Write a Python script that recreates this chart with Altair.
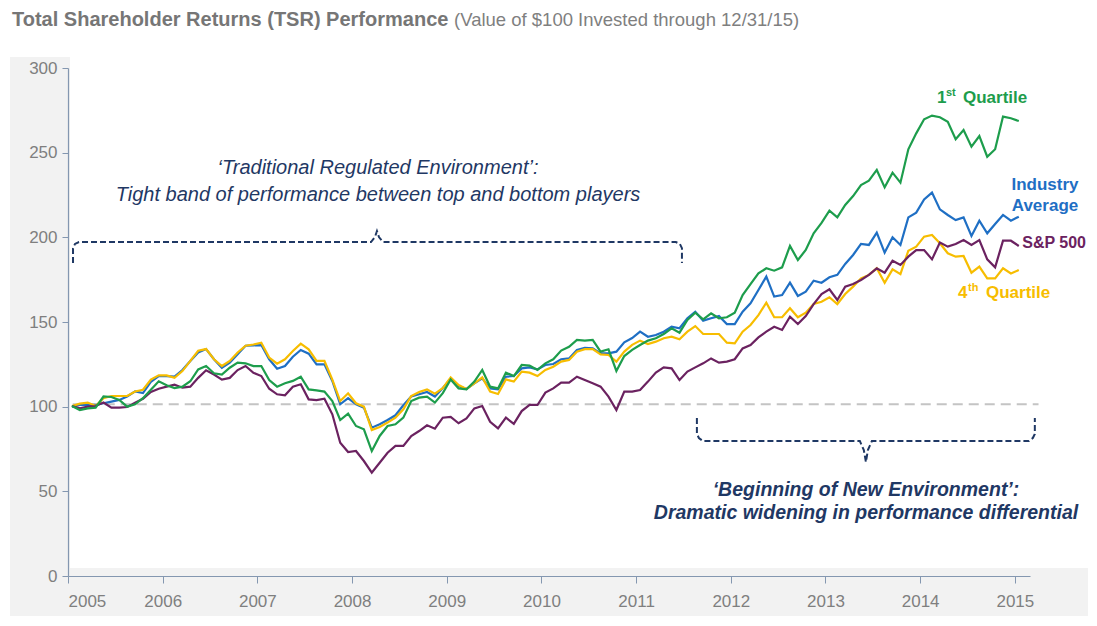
import altair as alt
import pandas as pd

# ---------------- data (monthly, Jan 2005 .. Jan 2015) ----------------
q1 = [100.4, 98, 99, 99.4, 106, 105.7, 104, 100, 101.4, 105, 110, 115,
      112.6, 111, 111.8, 115, 122, 124, 119.7, 119, 123, 126, 125.6, 124,
      124, 115.7, 111.8, 113.8, 115.2, 117.7, 110.2, 109.6, 108.9, 103.3, 92.1, 95.9,
      88.6, 86.6, 73.8, 82.7, 88.6, 89.6, 93.5, 103.3, 105.3, 105.9, 102.4, 108,
      116.1, 110.8, 110.2, 114.8, 121.7, 111.8, 110.8, 120.1, 118.1, 124.6, 124.2, 121.7,
      125.6, 128, 133.1, 135.4, 139.4, 139, 139.4, 132.5, 133.9, 121.1, 129.9, 133.5,
      136.4, 139, 140.4, 142.9, 146.3, 143.7, 151.2, 155.5, 151.6, 155.1, 152.2, 152.8,
      155.5, 165.9, 172.4, 178.7, 181.7, 180.3, 182.3, 194.9, 186.6, 192.5, 202.4, 208.5,
      215.7, 211.8, 219.1, 224.4, 230.9, 233.5, 239.8, 229.5, 238.2, 232.3, 252, 261.4,
      269.7, 271.9, 270.9, 268.3, 257.9, 263.4, 253.5, 259.8, 247.6, 252, 271.3, 270.3,
      268.7]
industry = [100, 101, 101, 101, 102, 103, 104, 106, 109, 108, 114.6, 118,
            118, 117.7, 121.6, 127, 132, 134, 128, 123, 126, 131, 136, 136.2,
            136.4, 128, 122.4, 124, 129.5, 133.5, 131.3, 125, 125, 115.2, 101.4, 105,
            101.4, 99.4, 87.6, 89.6, 92.1, 94.9, 100.8, 106, 107.3, 108.7, 106, 111,
            116.5, 112.2, 110.4, 113.8, 116.7, 110.8, 110.2, 117.7, 118.1, 122.6, 123.2, 122,
            124.6, 125.2, 128, 128.5, 133.5, 134.8, 134.4, 131.5, 131.5, 132.5, 138, 140.5,
            144.3, 141.3, 142.3, 144.3, 147.2, 146.3, 152.2, 156.1, 150.8, 152.2, 153.5, 148.8,
            148.8, 156.1, 161, 168.9, 176.8, 165, 165.9, 173.2, 165.4, 167.9, 174.4, 173.2,
            176.4, 177.8, 184.3, 189.6, 196.1, 195.5, 202.8, 191, 200, 195.5, 211.8, 214.6,
            222.4, 226.4, 216.5, 213.2, 210.2, 211.8, 200.8, 209.8, 202.4, 207.9, 213.2, 209.8,
            212.2]
q4 = [100.4, 101.8, 102.4, 100.4, 105, 106.3, 106.3, 106.3, 109, 110, 116, 118.5,
      118.5, 117, 121, 127, 133, 134, 128, 124, 127, 132, 136, 136.7,
      137.8, 129, 125.4, 128, 132.9, 137.2, 133.9, 127, 127, 116, 103.3, 107.9,
      102, 100, 86.2, 88, 90.6, 93.5, 98.4, 106.3, 108.7, 110.2, 107.7, 111,
      117.3, 112.8, 110.4, 113.8, 117.3, 108.9, 107.5, 116.1, 114.8, 120.7, 120.1, 118.1,
      121.7, 123.6, 126.6, 127.6, 132.5, 134, 134, 130.9, 130.5, 126.6, 132.5, 136.5,
      139, 137, 138.4, 140.4, 141.3, 139.8, 144.3, 147.6, 142.9, 142.9, 142.9, 137.8,
      137.4, 144.3, 148.2, 154.1, 161.4, 152.8, 152.8, 158.1, 152.8, 155.5, 160.6, 162,
      164.6, 160.6, 166.5, 170.9, 175.8, 177.8, 181.7, 173.2, 181.1, 178.3, 192.1, 194.5,
      200.4, 201.4, 196.5, 190.6, 188.6, 189, 179.1, 182.7, 175.8, 175.8, 181.7, 178.7,
      180.7]
sp500 = [100.4, 99, 100, 100.4, 102.4, 99.4, 99.4, 99.8, 102.4, 104.7, 108.7, 110.6,
         111.8, 113, 111.2, 111.8, 117, 121.5, 119, 116, 117, 121.6, 124, 120,
         118.1, 110.6, 107.3, 106.7, 111.8, 113.2, 104.3, 103.9, 104.7, 95.5, 78.7, 73.2,
         73.8, 67.9, 61, 66.9, 72.8, 76.8, 76.8, 82.7, 85.6, 89, 87, 93.5,
         94, 90.2, 93.1, 99, 100.4, 91.1, 87.2, 93.5, 89.8, 97.4, 101, 101,
         108.3, 110.8, 114.2, 114.2, 117.7, 115.7, 113.8, 111.8, 105.9, 98, 108.9, 108.9,
         109.8, 114.8, 120.1, 123.2, 122.6, 115.7, 120.7, 123.2, 125.6, 128.5, 126, 126.6,
         128, 134.4, 136.4, 140.9, 144.3, 147.2, 145.3, 153.1, 148.8, 153.5, 160.6, 166.5,
         169.3, 163, 170.9, 172.4, 174.8, 177.8, 181.7, 179.1, 186.2, 183.7, 188.6, 192.5,
         192.5, 187, 196.9, 194.5, 196.1, 198.4, 195.5, 198.4, 187, 182.3, 198, 198,
         194.9]

series_names = ["Industry Average", "4th Quartile", "S&P 500", "1st Quartile"]
series_values = [industry, q4, sp500, q1]
series_colors = ["#1f6fc4", "#f7bd00", "#6b2260", "#1d9d4c"]

year_ticks = list(range(2005, 2016))
value_ticks = [0, 50, 100, 150, 200, 250, 300]
baseline_value = 101.5

# brace annotations (data units: year, value)
brace_top_x = [2005.053, 2005.053, 2005.074, 2005.116, 2008.200, 2008.242, 2008.263, 2008.284, 2008.326, 2011.420, 2011.462, 2011.484, 2011.484]
brace_top_y = [184.8, 193.6, 196.1, 197.2, 197.2, 200.2, 203.7, 200.2, 197.2, 197.2, 196.1, 193.6, 184.8]
brace_bot_x = [2011.642, 2011.642, 2011.663, 2011.705, 2013.363, 2013.405, 2013.427, 2013.448, 2013.490, 2015.148, 2015.190, 2015.211, 2015.211]
brace_bot_y = [93.3, 83.9, 81.5, 79.7, 79.7, 74.4, 67.3, 74.4, 79.7, 79.7, 81.5, 83.9, 93.3]

# ---------------- layout ----------------
W, H = 962, 508
OX, OY = 68, 68          # page position of plot origin
XDOM = [2005, 2015.16]
NAVY = "#1f3864"
GRAY_TXT = "#7f7f7f"
AXIS_C = "#8497b0"
SANS = "Liberation Sans, Arial, sans-serif"

xs = [2005 + (m + 0.5) / 12 for m in range(len(q1))]
rows = []
for name, vals in zip(series_names, series_values):
    for x, v in zip(xs, vals):
        rows.append({"year": x, "value": v, "series": name})
df = pd.DataFrame(rows)

xscale = alt.Scale(domain=XDOM, nice=False, zero=False)
yscale = alt.Scale(domain=[0, 300], nice=False)

one = pd.DataFrame({"a": [0]})


def px(x):
    return alt.value(x - OX)


def py(y):
    return alt.value(y - OY)


bg = alt.Chart(one).mark_rect(color="#f2f2f2").encode(
    x=px(10), x2=px(1089), y=py(57), y2=py(620))
plot_bg = alt.Chart(one).mark_rect(color="#ffffff").encode(
    x=px(70), x2=px(1089), y=py(57), y2=py(568))

lines = []
for name, vals, col in zip(series_names, series_values, series_colors):
    lines.append(
        alt.Chart(df[df.series == name]).mark_line(color=col, strokeWidth=2.2).encode(
            x=alt.X("year:Q", scale=xscale,
                    axis=alt.Axis(values=year_ticks, format="d", title=None, grid=False,
                                  labelFont=SANS, labelFontSize=17, labelColor=GRAY_TXT,
                                  domainColor=AXIS_C, tickColor=AXIS_C, tickSize=7,
                                  labelPadding=10, domainWidth=1.2, zindex=2)),
            y=alt.Y("value:Q", scale=yscale,
                    axis=alt.Axis(values=value_ticks, title=None, grid=False,
                                  labelFont=SANS, labelFontSize=17, labelColor=GRAY_TXT,
                                  domainColor=AXIS_C, tickColor=AXIS_C, tickSize=6,
                                  labelPadding=5, domainWidth=1.2, zindex=2)),
        )
    )

base_line = alt.Chart(pd.DataFrame({"x": [2005.05], "x2": [2015.25], "y": [baseline_value]})).mark_rule(
    color="#c4c4c4", strokeWidth=2, strokeDash=[10, 6]).encode(
    x=alt.X("x:Q", scale=xscale), x2="x2:Q", y=alt.Y("y:Q", scale=yscale))


def brace(bx, by):
    d = pd.DataFrame({"bx": bx, "by": by, "o": list(range(len(bx)))})
    return alt.Chart(d).mark_line(color=NAVY, strokeWidth=2, strokeDash=[6, 3]).encode(
        x=alt.X("bx:Q", scale=xscale), y=alt.Y("by:Q", scale=yscale), order="o:Q")


def txt(s, x, y, size, color, weight="normal", style="normal", align="left", font=SANS):
    return alt.Chart(one).mark_text(text=s, align=align, baseline="middle", fontSize=size,
                                    color=color, fontWeight=weight, fontStyle=style,
                                    font=font).encode(x=px(x), y=py(y))


texts = [
    txt("Total Shareholder Returns (TSR) Performance", 12, 20, 20, "#767676", weight="bold"),
    txt("(Value of $100 Invested through  12/31/15)", 454, 20, 18.5, GRAY_TXT),
    txt("\u2018Traditional Regulated Environment\u2019:", 378, 168, 20, NAVY, style="italic", align="center"),
    txt("Tight band of performance between top and bottom players", 378, 195, 20, NAVY, style="italic", align="center"),
    txt("\u2018Beginning of New Environment\u2019:", 866, 490, 19.5, NAVY, weight="bold", style="italic", align="center"),
    txt("Dramatic widening in performance differential", 866, 513, 19.5, NAVY, weight="bold", style="italic", align="center"),
    # series labels
    txt("1", 937, 98, 17, series_colors[3], weight="bold"),
    txt("st", 946, 93, 11, series_colors[3], weight="bold"),
    txt("Quartile", 963, 98, 17, series_colors[3], weight="bold"),
    txt("Industry", 1045, 185, 17, series_colors[0], weight="bold", align="center"),
    txt("Average", 1045, 206, 17, series_colors[0], weight="bold", align="center"),
    txt("S&P 500", 1086, 243, 16, series_colors[2], weight="bold", align="right"),
    txt("4", 958, 293, 17, series_colors[1], weight="bold"),
    txt("th", 968, 288, 11, series_colors[1], weight="bold"),
    txt("Quartile", 986, 293, 17, series_colors[1], weight="bold"),
]

chart = alt.layer(bg, plot_bg, base_line, brace(brace_top_x, brace_top_y),
                  brace(brace_bot_x, brace_bot_y), *lines, *texts).properties(
    width=W, height=H,
    autosize=alt.AutoSizeParams(type="none"),
    padding={"left": 60, "top": 60, "right": 58, "bottom": 40},
    background="white",
).configure_view(stroke=None)

chart.save("out.html", embed_options={"renderer": "svg", "actions": False})
